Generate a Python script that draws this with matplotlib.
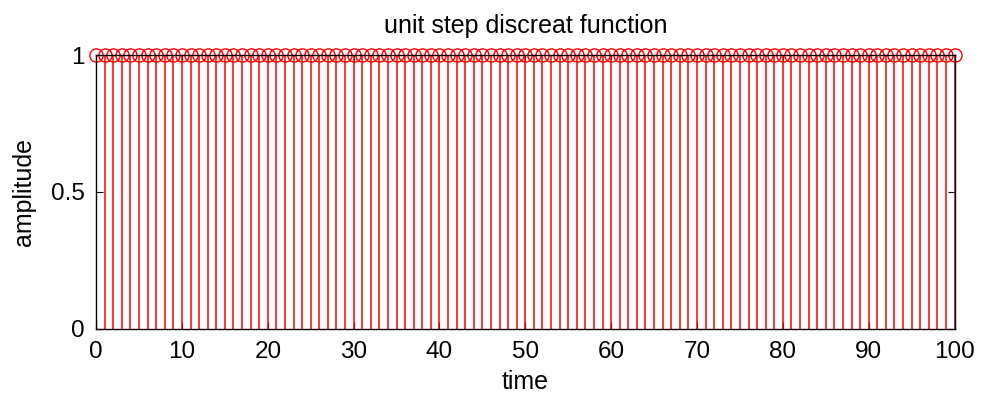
import numpy as np
import matplotlib.pyplot as plt

plt.rcParams['font.family'] = ['Liberation Sans', 'DejaVu Sans']

# discrete unit step u[n] for n = 0..100
n = list(range(0, 101))
u = [1] * len(n)

fig = plt.figure(figsize=(9.81, 3.99), dpi=100)
ax = fig.add_axes([0.098, 0.176, 0.875, 0.686])

markerline, stemlines, baseline = ax.stem(n, u, linefmt='r-', markerfmt='ro', basefmt=' ')
markerline.set_markerfacecolor('none')
markerline.set_markersize(9.5)
markerline.set_markeredgewidth(1.0)
markerline.set_clip_on(False)
stemlines.set_linewidth(1.1)

ax.set_xlim(0, 100)
ax.set_ylim(0, 1)
ax.set_xticks([0, 10, 20, 30, 40, 50, 60, 70, 80, 90, 100])
ax.set_yticks([0, 0.5, 1])
ax.set_yticklabels(['0', '0.5', '1'])
ax.tick_params(direction='in', top=True, right=True, labelsize=17.5, length=5)
ax.tick_params(axis='x', pad=9)
ax.tick_params(axis='y', pad=8)
for s in ax.spines.values():
    s.set_linewidth(1.0)
    s.set_zorder(5)

ax.set_title('unit step discreat function', fontsize=18, pad=16)
ax.set_xlabel('time', fontsize=18, labelpad=5)
ax.set_ylabel('amplitude', fontsize=18, labelpad=11)

fig.savefig('out.png', dpi=100)
